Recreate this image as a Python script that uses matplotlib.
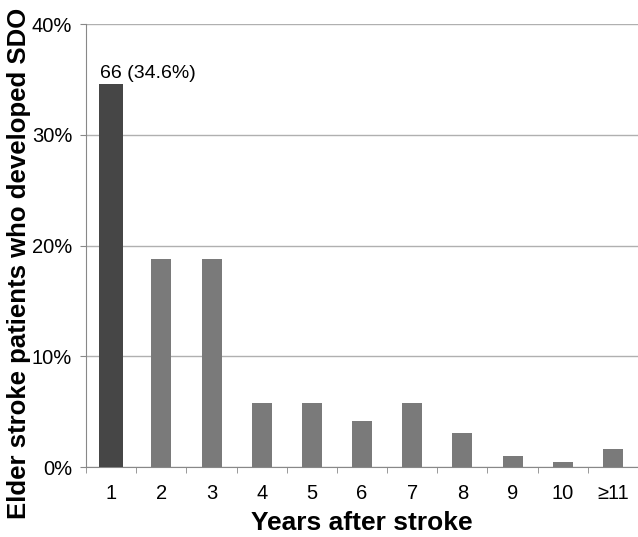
import matplotlib.pyplot as plt
import numpy as np

plt.rcParams['font.family'] = ['Liberation Sans', 'DejaVu Sans']

categories = ['1', '2', '3', '4', '5', '6', '7', '8', '9', '10', '≥11']
percents = [34.6, 18.8, 18.8, 5.8, 5.8, 4.2, 5.8, 3.1, 1.0, 0.5, 1.6]
yticks = [0, 10, 20, 30, 40]

fig = plt.figure(figsize=(6.38, 5.37), dpi=100)
ax = fig.add_axes([0.135, 0.130, 0.865, 0.825])

x = np.arange(len(categories))
colors = ['#464646'] + ['#7a7a7a'] * (len(categories) - 1)
widths = [0.48] + [0.4] * (len(categories) - 1)
ax.bar(x, percents, width=widths, color=colors, zorder=3)

ax.text(x[0] - 0.22, percents[0] + 0.5, '66 (34.6%)', fontsize=14, ha='left', va='baseline')

ax.set_xlim(-0.5, len(categories) - 0.5)
ax.set_ylim(0, 40)
ax.set_yticks(yticks)
ax.set_yticklabels([f'{v}%' for v in yticks], fontsize=14.5)
ax.set_xticks(x)
ax.set_xticklabels(categories, fontsize=14.5)
ax.set_xticks(np.arange(len(categories) + 1) - 0.5, minor=True)
ax.tick_params(axis='x', which='major', length=0, pad=12)
ax.tick_params(axis='x', which='minor', length=4, color='#888888')
ax.tick_params(axis='y', length=4, color='#888888', pad=6)

ax.grid(axis='y', color='#b0b0b0', linewidth=1, zorder=0)
for s in ['top', 'right']:
    ax.spines[s].set_visible(False)
for s in ['left', 'bottom']:
    ax.spines[s].set_color('#888888')

ax.set_xlabel('Years after stroke', fontsize=19, fontweight='bold', va='top')
ax.xaxis.set_label_coords(0.5, -0.1)
ax.set_ylabel('Elder stroke patients who developed SDO', fontsize=18.5, fontweight='bold')
ax.yaxis.set_label_coords(-0.1, 0.46)

fig.savefig('out.png', dpi=100)
